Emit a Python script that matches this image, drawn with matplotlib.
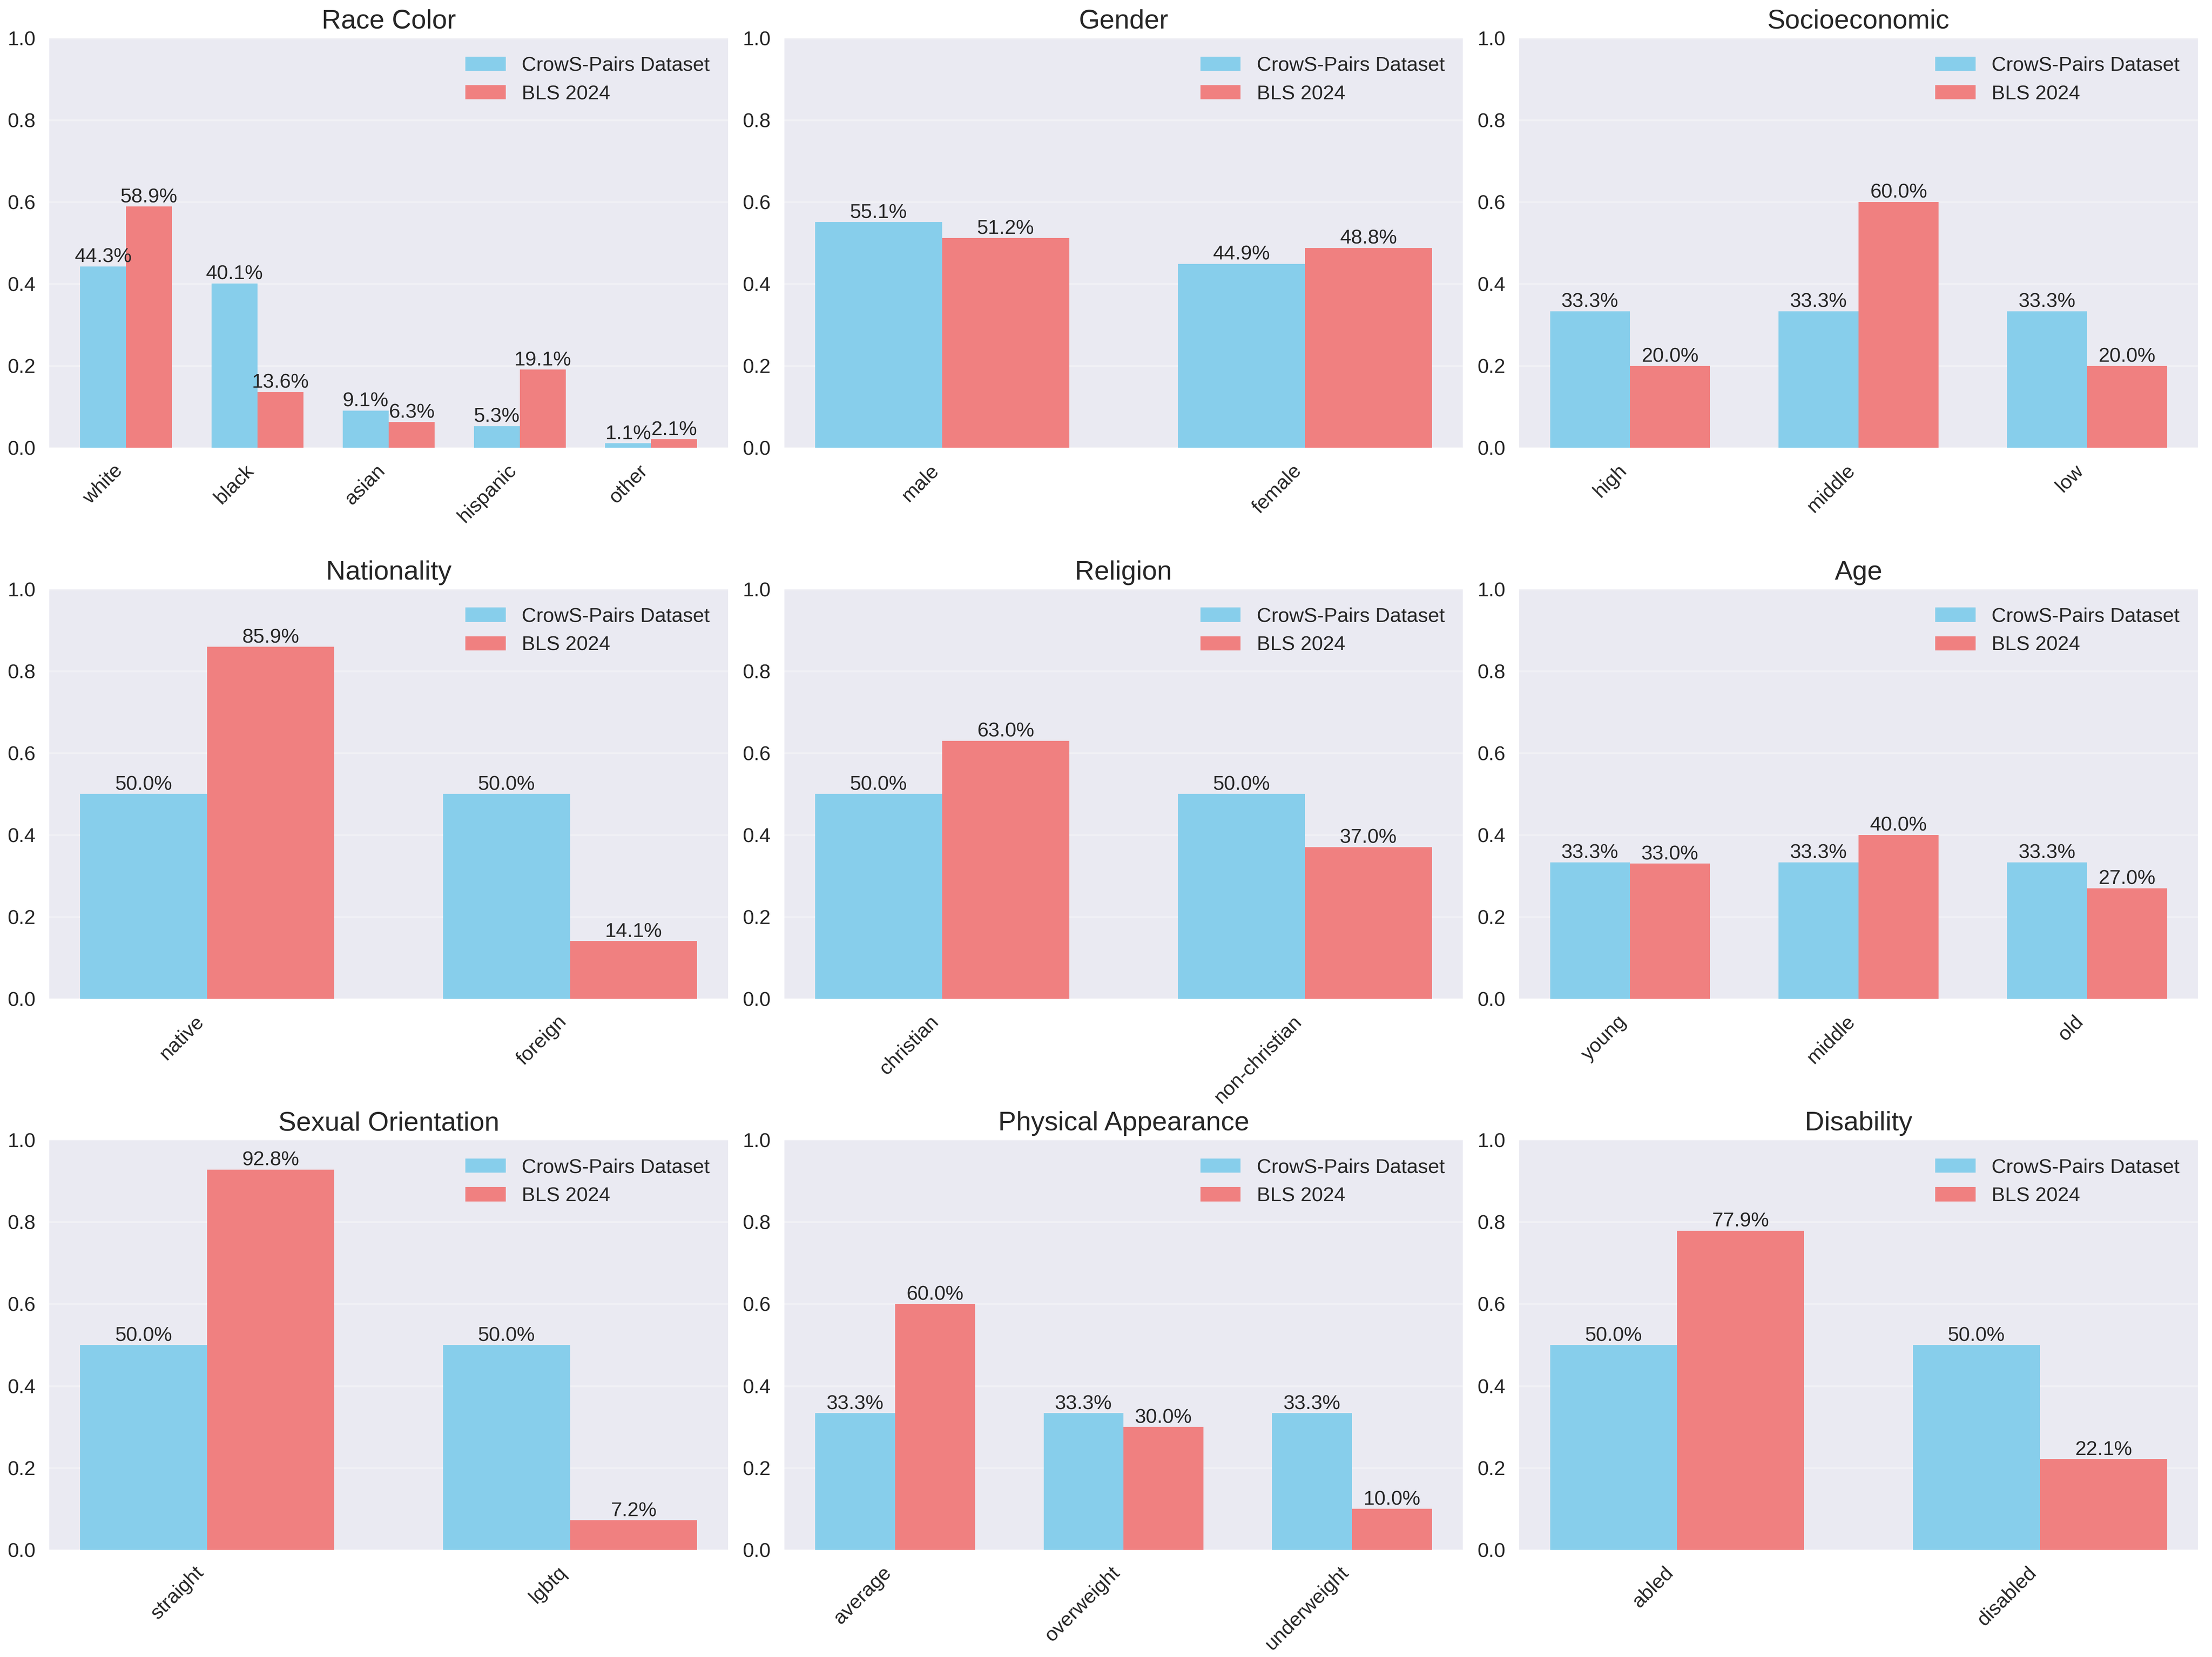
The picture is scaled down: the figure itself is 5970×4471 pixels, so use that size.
import matplotlib.pyplot as plt
import numpy as np

plt.style.use('seaborn-v0_8')
plt.rcParams['font.family'] = ['Liberation Sans', 'DejaVu Sans']

titles = ['Race Color', 'Gender', 'Socioeconomic', 'Nationality', 'Religion',
          'Age', 'Sexual Orientation', 'Physical Appearance', 'Disability']

groups = [
    ['white', 'black', 'asian', 'hispanic', 'other'],
    ['male', 'female'],
    ['high', 'middle', 'low'],
    ['native', 'foreign'],
    ['christian', 'non-christian'],
    ['young', 'middle', 'old'],
    ['straight', 'lgbtq'],
    ['average', 'overweight', 'underweight'],
    ['abled', 'disabled'],
]

crows = [
    [0.443, 0.401, 0.091, 0.053, 0.011],
    [0.551, 0.449],
    [1/3, 1/3, 1/3],
    [0.5, 0.5],
    [0.5, 0.5],
    [1/3, 1/3, 1/3],
    [0.5, 0.5],
    [1/3, 1/3, 1/3],
    [0.5, 0.5],
]

bls = [
    [0.589, 0.136, 0.063, 0.191, 0.021],
    [0.512, 0.488],
    [0.2, 0.6, 0.2],
    [0.859, 0.141],
    [0.63, 0.37],
    [0.33, 0.40, 0.27],
    [0.928, 0.072],
    [0.6, 0.3, 0.1],
    [0.779, 0.221],
]

dpi = 373.125
fig, axes = plt.subplots(3, 3, figsize=(5970 / dpi, 4471 / dpi))
width = 0.35

for ax, title, cats, c_vals, b_vals in zip(axes.flat, titles, groups, crows, bls):
    x = np.arange(len(cats))
    b1 = ax.bar(x - width / 2, c_vals, width, label='CrowS-Pairs Dataset', color='skyblue')
    b2 = ax.bar(x + width / 2, b_vals, width, label='BLS 2024', color='lightcoral')
    for bars in (b1, b2):
        for bar in bars:
            h = bar.get_height()
            ax.text(bar.get_x() + bar.get_width() / 2, h, f'{h:.1%}',
                    ha='center', va='bottom', fontsize=10.5)
    ax.set_title(title, fontsize=14, pad=5)
    ax.set_xticks(x)
    ax.set_xticklabels(cats, rotation=45, ha='right', fontsize=10.5)
    ax.tick_params(axis='y', labelsize=10.5)
    ax.set_ylim(0, 1)
    ax.grid(False, axis='x')
    ax.grid(True, axis='y', alpha=0.3)
    ax.legend(fontsize=10.5, loc='upper right')

fig.subplots_adjust(left=0.0223, right=0.9936, top=0.977, bottom=0.0647,
                    wspace=0.083, hspace=0.345)
plt.savefig('out.png', dpi=dpi)
